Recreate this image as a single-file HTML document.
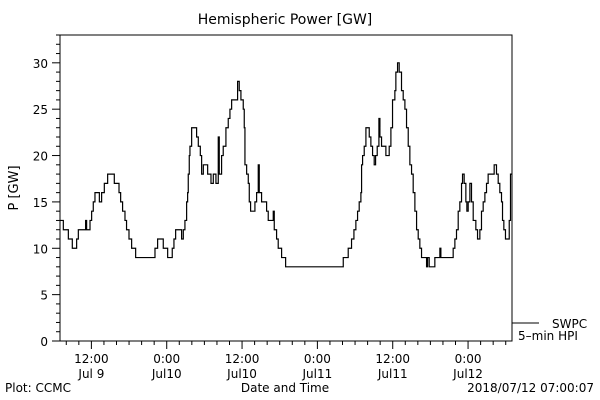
<!DOCTYPE html>
<html><head><meta charset="utf-8"><style>
body{margin:0;background:#fff}
svg{display:block;font-family:"DejaVu Sans","Liberation Sans",sans-serif}
text{fill:#000;font-size:12px}
</style></head><body>
<svg width="600" height="400" viewBox="0 0 600 400">
<text x="285" y="24" text-anchor="middle" style="font-size:14px">Hemispheric Power [GW]</text>
<text transform="translate(18,188) rotate(-90)" text-anchor="middle" style="font-size:13px">P [GW]</text>
<rect x="60" y="35" width="452" height="306" fill="none" stroke="#000" stroke-width="1"/>
<g id="yaxis"></g>
<g id="xaxis"></g>
<path id="series" fill="none" stroke="#000" stroke-width="1.2"/>
<line x1="512" y1="323" x2="539" y2="323" stroke="#000"/>
<text x="552" y="328">SWPC</text>
<text x="518" y="340">5–min HPI</text>
<text x="285" y="392" text-anchor="middle">Date and Time</text>
<text x="5" y="392">Plot: CCMC</text>
<text x="594" y="392" text-anchor="end">2018/07/12 07:00:07</text>
</svg>
<script>
const hours=[0,0.16,0.53,1.33,1.96,2.65,2.92,4.08,4.24,4.78,5.04,5.3,5.57,6.27,6.63,7.06,7.59,8.65,9.4,9.66,9.97,10.35,10.6,10.99,11.41,12.05,15.13,15.55,16.45,17.15,17.88,18.15,18.42,19.37,19.64,19.9,20.17,20.33,20.43,20.59,20.7,20.97,21.76,22.03,22.35,22.56,22.83,23.52,23.89,24.05,24.42,24.84,25.21,25.37,25.74,26,26.16,26.43,26.8,27.07,27.34,28.29,28.55,28.82,29.19,29.35,29.46,29.73,29.99,30.15,30.36,30.52,31.05,31.32,31.58,31.74,32.11,32.64,32.91,33.17,33.97,34.13,34.5,34.76,35.03,35.3,35.94,45.12,45.91,46.44,46.82,47.13,47.4,47.66,47.93,48.04,48.2,48.46,48.73,49.26,49.52,49.79,50.05,50.27,50.53,50.8,50.96,51.22,51.91,52.44,52.71,52.97,53.34,53.5,53.77,54.03,54.4,54.67,54.94,55.2,55.47,55.73,56,56.26,56.53,56.8,57.06,57.32,57.59,58.39,58.55,58.81,59.71,60.51,60.67,62.63,62.9,63.16,63.43,63.69,63.96,64.12,64.38,64.65,64.81,65.02,65.29,65.55,65.82,66.24,66.51,66.88,67.14,67.41,67.68,67.94,68.2,69.16,69.53,69.8,70.06,70.33,70.49,70.7,70.96,71.56,71.76,71.97];
const power=[13,13,12,11,10,11,12,13,12,13,14,15,16,15,16,17,18,17,16,15,14,13,12,11,10,9,10,11,10,9,10,11,12,11,12,13,15,16,18,20,21,23,22,21,20,18,19,18,18,17,18,17,22,18,20,21,21,23,24,25,26,28,27,26,25,23,19,18,17,15,14,14,15,16,19,16,15,15,14,13,14,12,11,10,10,9,8,9,10,11,12,13,14,15,16,19,20,21,23,22,21,20,19,20,21,24,22,21,20,21,23,26,27,29,30,29,27,26,25,23,21,19,18,16,14,12,11,10,9,8,9,8,9,10,9,10,11,12,14,15,17,18,17,15,14,15,17,15,13,12,11,12,14,15,16,17,18,19,18,17,16,15,13,12,11,13,18,18];
const yTickLabels=[0,5,10,15,20,25,30];
const xTickLabels=[["12:00","Jul 9"],["0:00","Jul10"],["12:00","Jul10"],["0:00","Jul11"],["12:00","Jul11"],["0:00","Jul12"]];
const xTickHours=[5,17,29,41,53,65];
const X0=60,X1=512,Y0=341,YT=35,HMAX=72,VMAX=33;
const sx=h=>X0+h*(X1-X0)/HMAX;
const sy=v=>Y0-v*(Y0-YT)/VMAX;
const NS="http://www.w3.org/2000/svg";
function mk(tag,attrs,parent){const e=document.createElementNS(NS,tag);for(const k in attrs)e.setAttribute(k,attrs[k]);parent.appendChild(e);return e;}
const ya=document.getElementById('yaxis'),xa=document.getElementById('xaxis');
for(let v=0;v<=VMAX;v++){const major=v%5===0;const l=mk('line',{x1:X0-(major?8:4),x2:X0,y1:sy(v),y2:sy(v),stroke:'#000'},ya);

}
yTickLabels.forEach(v=>{const t=mk('text',{x:X0-12,y:sy(v)+5,'text-anchor':'end'},ya);t.textContent=v;

});
for(let h=1;h<HMAX;h+=2){const major=xTickHours.includes(h);const l=mk('line',{x1:sx(h),x2:sx(h),y1:Y0,y2:Y0+(major?8:4),stroke:'#000'},xa);

}
xTickHours.forEach((h,i)=>{const t1=mk('text',{x:sx(h),y:363,'text-anchor':'middle'},xa);t1.textContent=xTickLabels[i][0];


const t2=mk('text',{x:sx(h),y:378,'text-anchor':'middle'},xa);t2.textContent=xTickLabels[i][1];

});
let d='M'+sx(hours[0])+','+sy(power[0]);
for(let i=1;i<hours.length;i++){d+='H'+sx(hours[i])+'V'+sy(power[i]);}
d+='H'+sx(HMAX);
document.getElementById('series').setAttribute('d',d);
</script>
</body></html>
